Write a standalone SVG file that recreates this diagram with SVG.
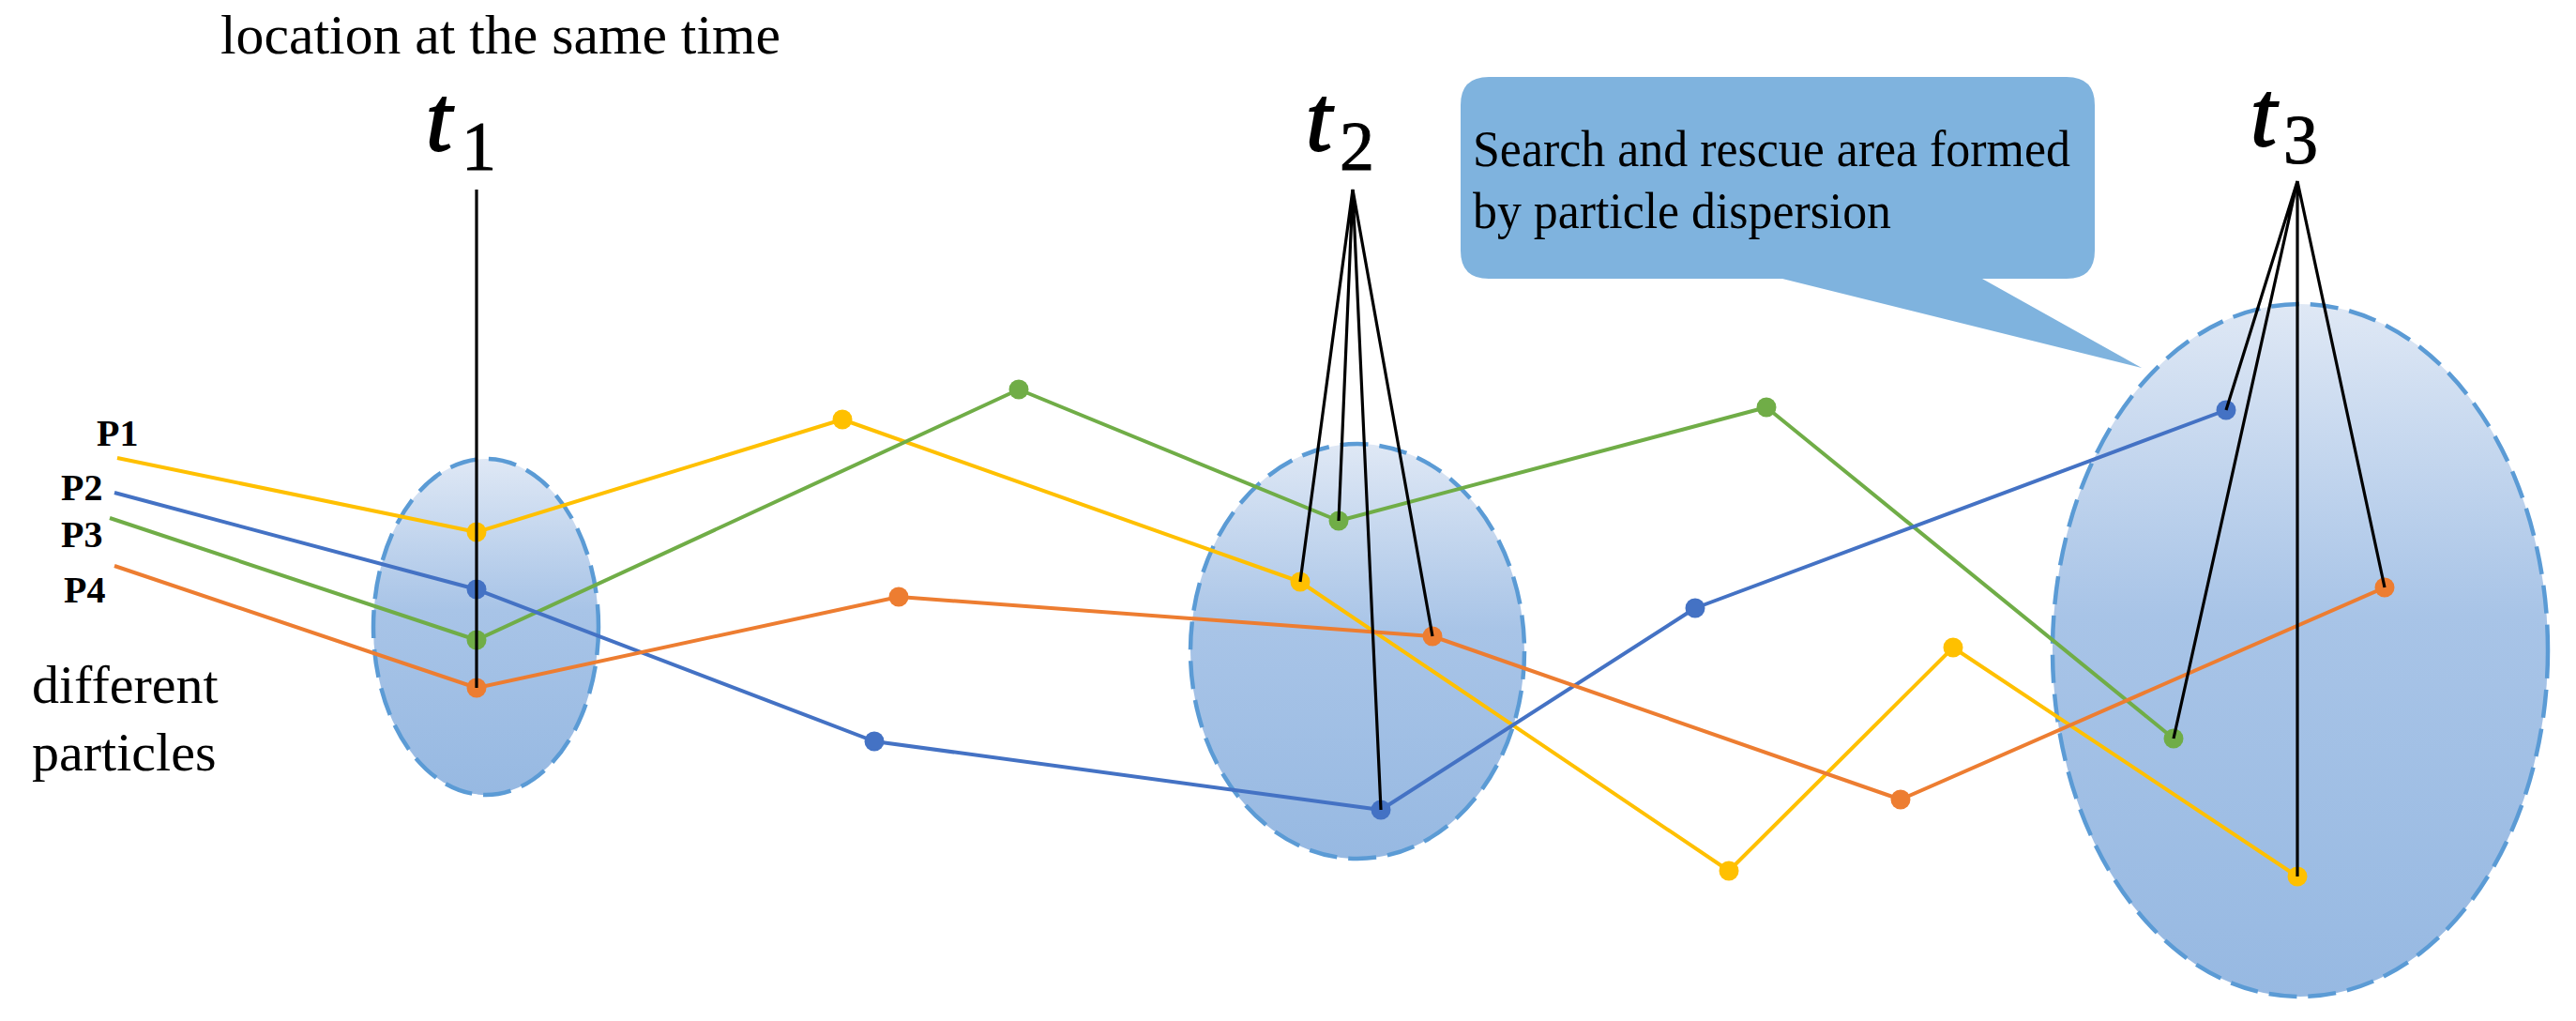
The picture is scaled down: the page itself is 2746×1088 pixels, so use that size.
<svg xmlns="http://www.w3.org/2000/svg" width="2746" height="1088" viewBox="0 0 2746 1088">
<defs>
<linearGradient id="areaGrad" x1="0" y1="0" x2="0" y2="1">
<stop offset="0" stop-color="#dfe8f5"/>
<stop offset="0.45" stop-color="#a8c4e7"/>
<stop offset="1" stop-color="#97b9e2"/>
</linearGradient>
</defs>
<style>
.area{fill:url(#areaGrad);stroke:#5b9bd5;stroke-width:4.5;stroke-dasharray:30 12}
.lbl{font-family:"Liberation Serif","Times New Roman",serif;fill:#000}
.tt{font-family:"Liberation Serif","Times New Roman",serif;font-style:italic;font-size:100px;fill:#000;stroke:#000;stroke-width:2}
.ts{font-family:"Liberation Serif","Times New Roman",serif;font-size:74px;fill:#000;stroke:#000;stroke-width:1}
.path{fill:none;stroke-width:4;stroke-linejoin:round}
.y{stroke:#ffc000}.yf{fill:#ffc000}
.b{stroke:#4472c4}.bf{fill:#4472c4}
.g{stroke:#70ad47}.gf{fill:#70ad47}
.o{stroke:#ed7d31}.of{fill:#ed7d31}
.tl{stroke:#000;stroke-width:3.2;fill:none}
</style>
<rect width="2746" height="1088" fill="#fff"/>

<g id="area-t1"><ellipse class="area" cx="518" cy="668" rx="120" ry="179"/></g>
<g id="area-t2"><ellipse class="area" cx="1447" cy="694" rx="178" ry="221"/></g>
<g id="area-t3"><ellipse class="area" cx="2452" cy="693" rx="264" ry="369"/></g>

<g id="callout">
<path d="M1587,82 H2203 Q2233,82 2233,112 V267 Q2233,297 2203,297 H2113 L2283,392 L1900,297 H1587 Q1557,297 1557,267 V112 Q1557,82 1587,82 Z" fill="#7fb3de"/>
<text class="lbl" x="1570" y="177" font-size="55" fill="#1a1a22" textLength="637" lengthAdjust="spacingAndGlyphs">Search and rescue area formed</text>
<text class="lbl" x="1570" y="243" font-size="55" fill="#1a1a22" textLength="446" lengthAdjust="spacingAndGlyphs">by particle dispersion</text>
</g>

<g id="title"><text class="lbl" x="235" y="57" font-size="60" textLength="597" lengthAdjust="spacingAndGlyphs">location at the same time</text></g>
<g id="particles-label">
<text class="lbl" x="34" y="749" font-size="58">different</text>
<text class="lbl" x="34" y="821" font-size="58">particles</text>
</g>
<g id="p-labels">
<text class="lbl" x="103" y="475" font-size="40" font-weight="bold">P1</text>
<text class="lbl" x="65" y="533" font-size="40" font-weight="bold">P2</text>
<text class="lbl" x="65" y="583" font-size="40" font-weight="bold">P3</text>
<text class="lbl" x="68" y="642" font-size="40" font-weight="bold">P4</text>
</g>

<g id="connectors">
<polyline class="path y" points="125,488 508,567 898,447 1386,620 1843,928 2082,690 2449,934"/>
<polyline class="path g" points="117,552 508,682 1086,415 1427,555 1883,434 2317,787"/>
<polyline class="path b" points="122,525 508,628 932,790 1472,863 1807,648 2373,437"/>
<polyline class="path o" points="122,603 508,733 958,636 1527,678 2026,852 2542,626"/>
</g>

<g id="points">
<g class="yf"><circle cx="508" cy="567" r="10.5"/><circle cx="898" cy="447" r="10.5"/><circle cx="1386" cy="620" r="10.5"/><circle cx="1843" cy="928" r="10.5"/><circle cx="2082" cy="690" r="10.5"/><circle cx="2449" cy="934" r="10.5"/></g>
<g class="gf"><circle cx="508" cy="682" r="10.5"/><circle cx="1086" cy="415" r="10.5"/><circle cx="1427" cy="555" r="10.5"/><circle cx="1883" cy="434" r="10.5"/><circle cx="2317" cy="787" r="10.5"/></g>
<g class="bf"><circle cx="508" cy="628" r="10.5"/><circle cx="932" cy="790" r="10.5"/><circle cx="1472" cy="863" r="10.5"/><circle cx="1807" cy="648" r="10.5"/><circle cx="2373" cy="437" r="10.5"/></g>
<g class="of"><circle cx="508" cy="733" r="10.5"/><circle cx="958" cy="636" r="10.5"/><circle cx="1527" cy="678" r="10.5"/><circle cx="2026" cy="852" r="10.5"/><circle cx="2542" cy="626" r="10.5"/></g>
</g>

<g id="t1">
<text class="tt" x="454" y="160">t</text><text class="ts" x="492" y="181">1</text>
</g>
<g id="t2">
<text class="tt" x="1392" y="160">t</text><text class="ts" x="1428" y="181">2</text>
</g>
<g id="t3">
<text class="tt" x="2399" y="155">t</text><text class="ts" x="2434" y="174">3</text>
</g>

<g id="time-connectors">
<line class="tl" x1="508" y1="202" x2="508" y2="733"/>
<polyline class="tl" points="1386,620 1442,202 1427,555"/>
<polyline class="tl" points="1527,678 1442,202 1472,863"/>
<polyline class="tl" points="2373,437 2449,193 2317,787"/>
<polyline class="tl" points="2449,934 2449,193 2542,626"/>
</g>
</svg>
